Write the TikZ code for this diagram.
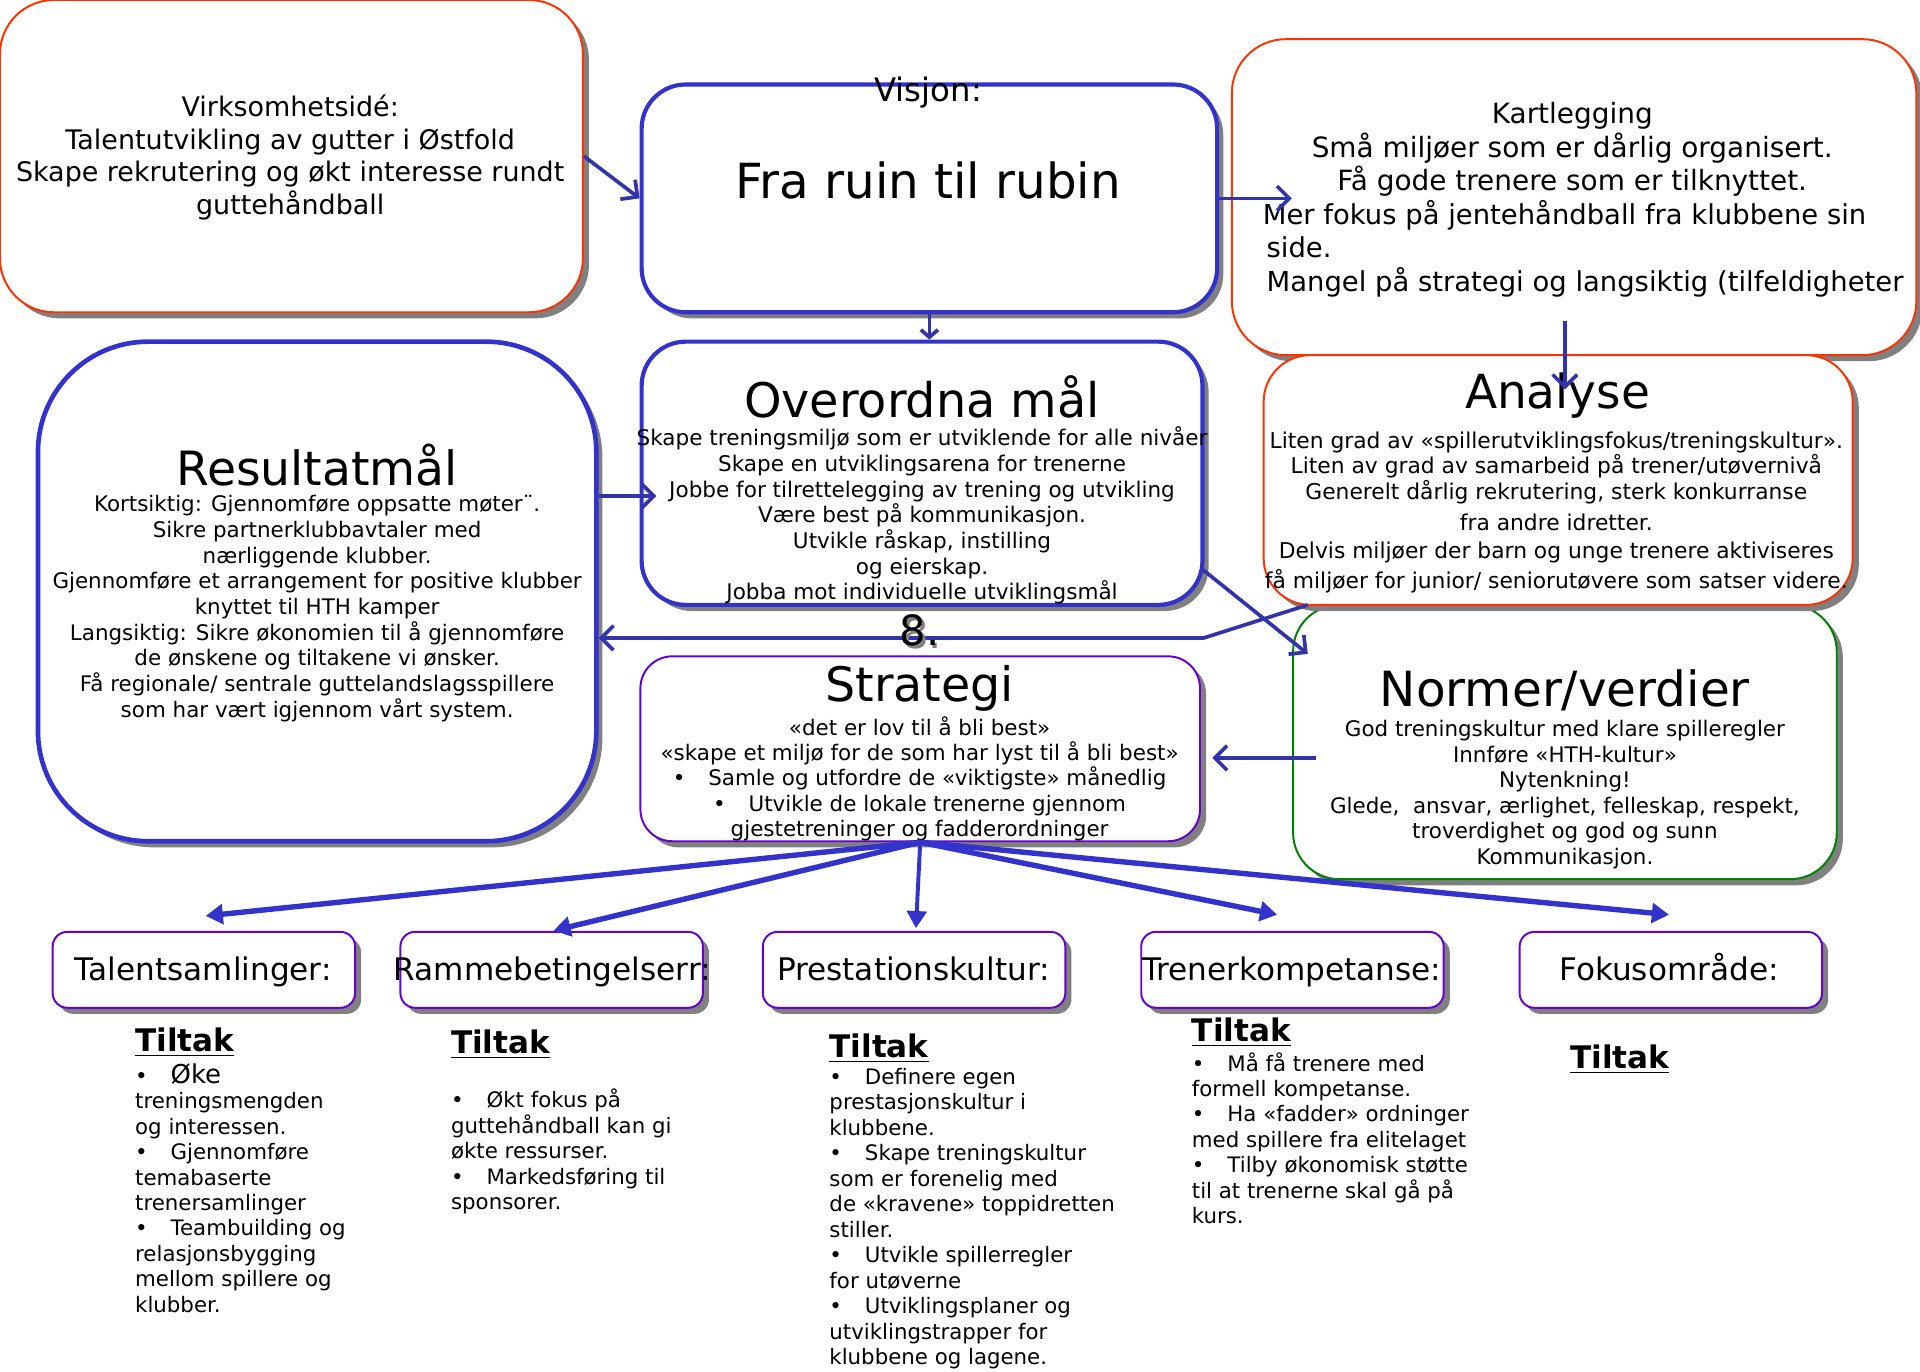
\documentclass[tikz,border=0pt]{standalone}
\usepackage{fontspec}
\setmainfont{DejaVu Sans}
\usetikzlibrary{arrows.meta,fit,shadows}

\definecolor{boxblue}{RGB}{51,51,204}
\definecolor{arrowblue}{RGB}{51,51,170}
\definecolor{boxred}{RGB}{255,51,0}
\definecolor{boxgreen}{RGB}{0,128,0}
\definecolor{boxpurple}{RGB}{102,0,204}
\definecolor{shade}{RGB}{128,128,128}

\newcommand{\fs}[2]{\fontsize{#1}{#2}\selectfont}
\newcommand{\bul}{\makebox[14.5pt][l]{•}}

\tikzset{
  panel/.style={fill=white, inner sep=0pt,
    general shadow={fill=shade, shadow xshift=2.5pt, shadow yshift=-2.5pt}},
  redpanel/.style={panel, draw=boxred, line width=0.8pt},
  bluepanel/.style={panel, draw=boxblue, line width=1.7pt},
  greenpanel/.style={panel, draw=boxgreen, line width=0.8pt},
  purplepanel/.style={panel, draw=boxpurple, line width=0.8pt},
  tabpanel/.style={purplepanel, rounded corners=6pt},
  txt/.style={inner sep=0pt, align=center},
  body/.style={txt, font=\fs{8.75}{10.5}},
  tablabel/.style={inner sep=0pt, anchor=base, font=\fs{12.7}{15}},
  link/.style={draw=arrowblue, line width=1.5pt,
    -{Straight Barb[length=5pt,width=10pt]}},
  branch/.style={draw=boxblue, line width=2.2pt,
    -{Triangle[length=7pt,width=8pt]}},
  tiltakhead/.style={inner sep=0pt, anchor=west, font=\fs{12.7}{15}\bfseries},
  tiltakbody/.style={inner sep=0pt, anchor=north west, align=left,
    font=\fs{8.7}{10.4}},
}

\begin{document}
\begin{tikzpicture}[x=0.5pt,y=-0.5pt]
\path[fill=white] (0,0) rectangle (1568,1120);
\useasboundingbox (0,0) rectangle (1568,1120);

% ---- panels ----
\node[redpanel, rounded corners=22pt, fit={(0,0)(476,255)}] (idea) {};
\node[bluepanel, rounded corners=18pt, fit={(524,69)(994,255)}] (vision) {};
\node[redpanel, rounded corners=22pt, fit={(1006,32)(1565,290)}] (survey) {};
\node[greenpanel, rounded corners=19pt, fit={(1056,494)(1500,718)}] (values) {};
\node[redpanel, rounded corners=19pt, fit={(1032,290)(1513,494)}] (analysis) {};
\node[bluepanel, line width=1.9pt, rounded corners=45pt, fit={(31,279)(487,687)}] (results) {};
\node[bluepanel, rounded corners=18pt, fit={(524,279)(982,494)}] (goals) {};
\node[purplepanel, rounded corners=13pt, fit={(523,536)(980,687)}] (strategy) {};

\node[tabpanel, fit={(43,761)(290,823)}] (talent) {};
\node[tabpanel, fit={(327,761)(574,823)}] (frame) {};
\node[tabpanel, fit={(623,761)(870,823)}] (culture) {};
\node[tabpanel, fit={(932,761)(1179,823)}] (coach) {};
\node[tabpanel, fit={(1241,761)(1488,823)}] (focus) {};

% ---- panel texts ----
\node[txt, font=\fs{11}{13.25}] (ideatext) at (237,128.5)
  {Virksomhetsidé:\\Talentutvikling av gutter i Østfold\\Skape rekrutering og økt interesse rundt\\guttehåndball};

\node[txt, font=\fs{13.2}{15}] (visionlabel) at (758,76) {Visjon:};
\node[txt, font=\fs{19.75}{23}] (visiontext) at (758,147) {Fra ruin til rubin};

\node[txt, font=\fs{11.4}{13.75}] (surveyhead) at (1284,122)
  {Kartlegging\\Små miljøer som er dårlig organisert.\\Få gode trenere som er tilknyttet.};
\node[txt, align=left, anchor=west, font=\fs{11.2}{13.75}] (surveylist) at (1031,203)
  {Mer fokus på jentehåndball fra klubbene sin\\\hspace{1.5pt}side.\\\hspace{1.5pt}Mangel på strategi og langsiktig (tilfeldigheter};

\node[txt, font=\fs{19.3}{23}] (resultstitle) at (259,380) {Resultatmål};
\node[body] (resultstext) at (259,497)
  {Kortsiktig: Gjennomføre oppsatte møter¨.\\Sikre partnerklubbavtaler med\\nærliggende klubber.\\Gjennomføre et arrangement for positive klubber\\knyttet til HTH kamper\\Langsiktig: Sikre økonomien til å gjennomføre\\de ønskene og tiltakene vi ønsker.\\Få regionale/ sentrale guttelandslagsspillere\\som har vært igjennom vårt system.};

\node[txt, font=\fs{19.5}{23}] (goalstitle) at (753,324) {Overordna mål};
\node[body, font=\fs{8.8}{10.5}] (goalstext) at (753,421)
  {Skape treningsmiljø som er utviklende for alle nivåer\\Skape en utviklingsarena for trenerne\\Jobbe for tilrettelegging av trening og utvikling\\Være best på kommunikasjon.\\Utvikle råskap, instilling\\og eierskap.\\Jobba mot individuelle utviklingsmål};

\node[txt, font=\fs{19.2}{23}] (analysistitle) at (1272,323) {Analyse};
\node[body, font=\fs{8.9}{10.5}] (analysistext) at (1271,418.5)
  {Liten grad av «spillerutviklingsfokus/treningskultur».\\Liten av grad av samarbeid på trener/utøvernivå\\Generelt dårlig rekrutering, sterk konkurranse\\[2pt]fra andre idretter.\\[1pt]Delvis miljøer der barn og unge trenere aktiviseres\\[2pt]få miljøer for junior/ seniorutøvere som satser videre.};

\node[txt, font=\fs{19.8}{23}] (valuestitle) at (1278,564) {Normer/verdier};
\node[body, font=\fs{8.75}{10.4}] (valuestext) at (1278,649)
  {God treningskultur med klare spilleregler\\Innføre «HTH-kultur»\\Nytenkning!\\Glede,\ \ ansvar, ærlighet, felleskap, respekt,\\troverdighet og god og sunn\\Kommunikasjon.};

\node[txt, font=\fs{19.4}{23}] (strategytitle) at (751,562) {Strategi};
\node[body, font=\fs{8.75}{10.4}] (strategytext) at (751,636)
  {«det er lov til å bli best»\\«skape et miljø for de som har lyst til å bli best»\\\bul Samle og utfordre de «viktigste» månedlig\\\bul Utvikle de lokale trenerne gjennom\\gjestetreninger og fadderordninger};

\node[tablabel] (talentlabel) at (166,801) {Talentsamlinger:};
\node[tablabel] (framelabel) at (451,801) {Rammebetingelserr:};
\node[tablabel] (culturelabel) at (746,801) {Prestationskultur:};
\node[tablabel] (coachlabel) at (1055,801) {Trenerkompetanse:};
\node[tablabel] (focuslabel) at (1363,801) {Fokusområde:};

% ---- measures under each tab ----
\node[tiltakhead] (talenthead) at (110,851) {\underline{Tiltak}};
\node[tiltakbody] (talentlist) at (110,868)
  {\bul{\fs{10.6}{12.5}Øke}\\treningsmengden\\og interessen.\\\bul Gjennomføre\\temabaserte\\trenersamlinger\\\bul Teambuilding og\\relasjonsbygging\\mellom spillere og\\klubber.};

\node[tiltakhead] (framehead) at (368,853) {\underline{Tiltak}};
\node[tiltakbody] (framelist) at (368,889)
  {\bul Økt fokus på\\guttehåndball kan gi\\økte ressurser.\\\bul Markedsføring til\\sponsorer.};

\node[tiltakhead] (culturehead) at (677,856) {\underline{Tiltak}};
\node[tiltakbody] (culturelist) at (677,872)
  {\bul Definere egen\\prestasjonskultur i\\klubbene.\\\bul Skape treningskultur\\som er forenelig med\\de «kravene» toppidretten\\stiller.\\\bul Utvikle spillerregler\\for utøverne\\\bul Utviklingsplaner og\\utviklingstrapper for\\klubbene og lagene.};

\node[tiltakhead] (coachhead) at (973,843) {\underline{Tiltak}};
\node[tiltakbody] (coachlist) at (973,859)
  {\bul Må få trenere med\\formell kompetanse.\\\bul Ha «fadder» ordninger\\med spillere fra elitelaget\\\bul Tilby økonomisk støtte\\til at trenerne skal gå på\\kurs.};

\node[tiltakhead] (focushead) at (1282,865) {\underline{Tiltak}};

% ---- connector end points inside panels ----
\coordinate (surveyin) at (1055,162);
\coordinate (surveyout) at (1278,262);
\coordinate (analysisin) at (1278,318);
\coordinate (goalsin) at (536,405);
\coordinate (analysisout) at (1068,494);
\coordinate (bend) at (983,521);
\coordinate (goalsout) at (982,465);
\coordinate (valuesin) at (1068,534);
\coordinate (valuesout) at (1075,619);
\coordinate (strategyin) at (990,619);
\coordinate (talenttip) at (168,748);
\coordinate (frametip) at (452,760);
\coordinate (culturetip) at (748,758);
\coordinate (coachtip) at (1043,747);
\coordinate (focustip) at (1363,747);

% ---- connectors ----
\draw[link] (idea.east) -- (vision.west);
\draw[link] (vision.east) -- (surveyin);
\draw[link, -{Straight Barb[length=3pt,width=7pt]}] (vision.south) -- (vision.south |- goals.north);
\draw[link] (surveyout) -- (analysisin);
\draw[link] (results.east |- goalsin) -- (goalsin);
\draw[link] (analysisout) -- (bend) -- (results.east |- bend);
\draw[link] (goalsout) -- (valuesin);
\draw[link] (valuesout) -- (strategyin);

\draw[branch] (strategy.south) -- (talenttip);
\draw[branch] (strategy.south) -- (frametip);
\draw[branch, line width=1.6pt] (strategy.south) -- (culturetip);
\draw[branch] (strategy.south) -- (coachtip);
\draw[branch] (strategy.south) -- (focustip);

% ---- step number ----
\node[txt, font=\fs{17}{20}, text=shade] (stepshadow) at (753,517) {8.};
\node[txt, font=\fs{17}{20}] (stepnum) at (751,515) {8.};
\end{tikzpicture}
\end{document}
